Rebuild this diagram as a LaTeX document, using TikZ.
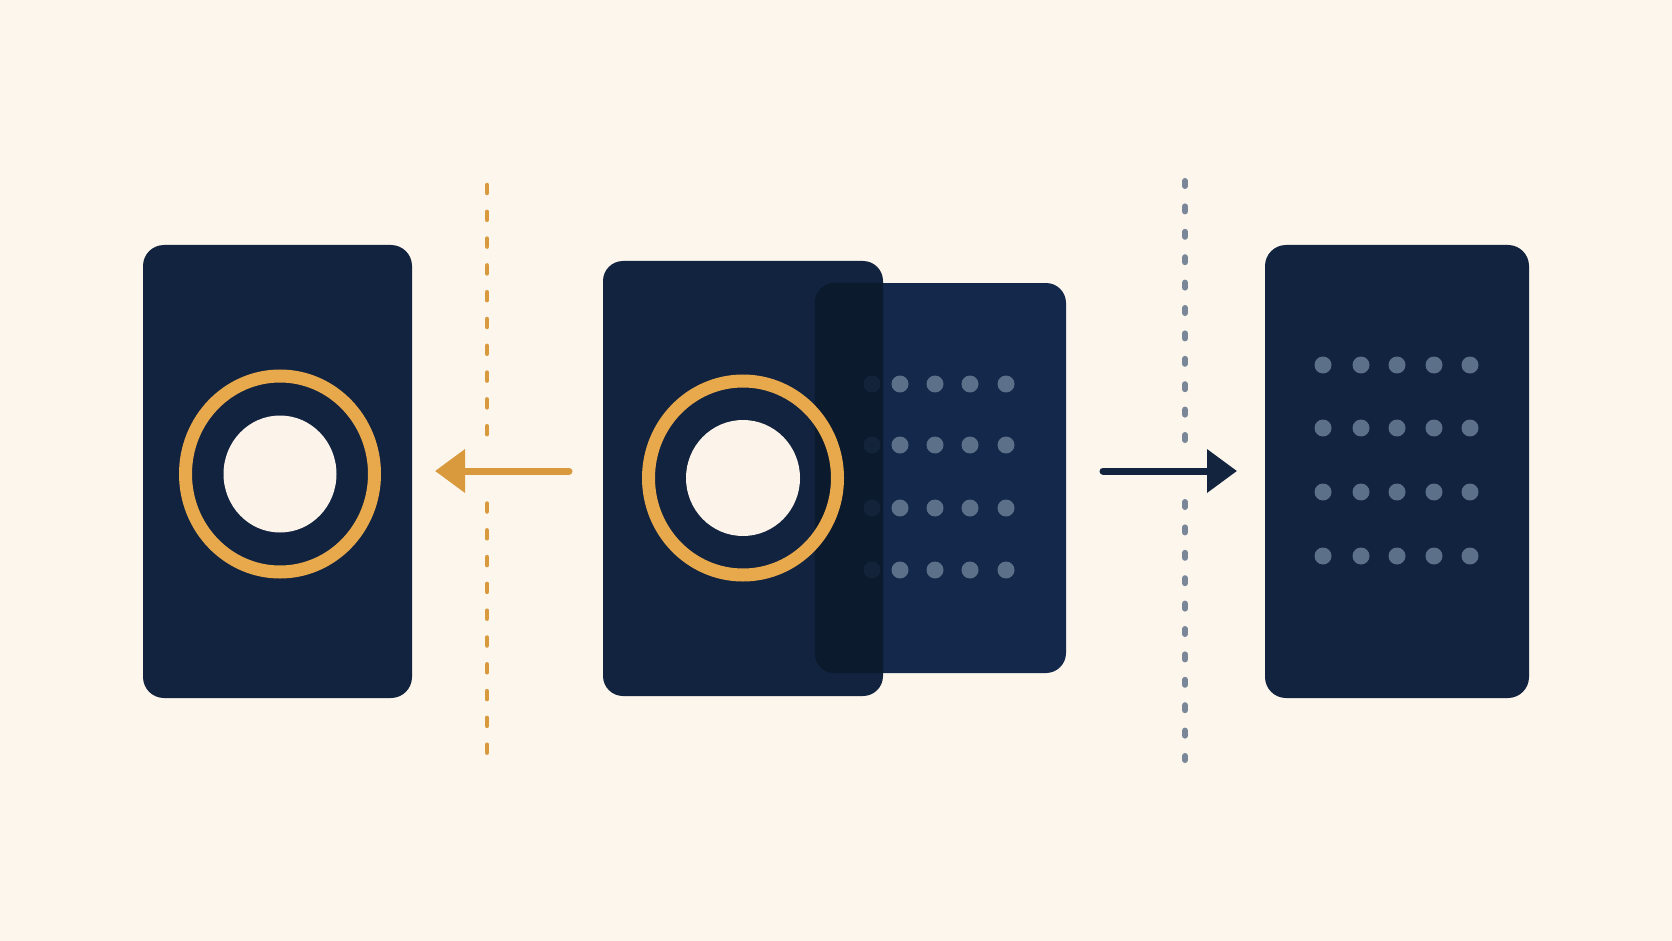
\documentclass[tikz,border=0pt]{standalone}
\usetikzlibrary{arrows.meta}
\definecolor{bgcream}{HTML}{FCF6EC}
\definecolor{navy}{HTML}{11233F}
\definecolor{navyb}{HTML}{13284A}
\definecolor{navyover}{HTML}{0B1A2C}
\definecolor{ringor}{HTML}{E8A84C}
\definecolor{arrowor}{HTML}{D99A3E}
\definecolor{dashgray}{HTML}{7A8799}
\definecolor{dotgray}{HTML}{5D7089}
\definecolor{dotdim}{HTML}{13243A}
\definecolor{creamdot}{HTML}{FCF3EA}
\definecolor{navyarrow}{HTML}{13243F}
\tikzset{
  cardbox/.style={rectangle, rounded corners=21pt, inner sep=0pt, draw=none},
  ringline/.style={draw=ringor, line width=13pt},
  innerdisc/.style={fill=creamdot},
  gdot/.style={fill=dotgray},
  ddot/.style={fill=dotdim},
  ordash/.style={draw=arrowor, line width=4.5pt, line cap=round, dash pattern=on 8pt off 18.8pt},
  grdash/.style={draw=dashgray, line width=6pt, line cap=round, dash pattern=on 5pt off 20.4pt},
  orarrow/.style={draw=arrowor, line width=7pt, line cap=round, -{Triangle[length=30pt, width=42pt]}},
  nvarrow/.style={draw=navyarrow, line width=7pt, line cap=round, -{Triangle[length=30pt, width=42pt]}}
}
\begin{document}
\begin{tikzpicture}[x=1pt,y=-1pt]
\useasboundingbox (0,0) rectangle (1672,941);
\fill[bgcream] (0,0) rectangle (1672,941);

% far left card
\node[cardbox, fill=navy, minimum width=269pt, minimum height=453pt] (cardA) at (277.5,471.5) {};
% middle right card (behind)
\node[cardbox, fill=navyb, rounded corners=20pt, minimum width=251pt, minimum height=390pt] (cardC) at (940.5,478) {};
% dots on middle right card
\foreach \y in {384,445,508,570}{
  \foreach \x in {900,935,970,1006}{
    \fill[gdot] (\x,\y) circle (8.5pt);
  }
}
% middle left card (front)
\node[cardbox, fill=navy, rounded corners=20pt, minimum width=280pt, minimum height=435pt] (cardB) at (743,478.5) {};
% overlap region
\begin{scope}
  \clip[rounded corners=20pt] (cardC.north west) rectangle (cardC.south east);
  \fill[navyover, rounded corners=20pt] (cardB.north west) rectangle (cardB.south east);
  \foreach \y in {384,445,508,570}{
    \fill[ddot] (872,\y) circle (8.5pt);
  }
\end{scope}
% far right card
\node[cardbox, fill=navy, minimum width=264pt, minimum height=453pt] (cardD) at (1397,471.5) {};
\foreach \y in {365,428,492,556}{
  \foreach \x in {1323,1361,1397,1434,1470}{
    \fill[gdot] (\x,\y) circle (8.5pt);
  }
}

% rings and discs
\draw[ringline] (280,474) ellipse [x radius=94.5pt, y radius=98pt];
\fill[innerdisc] (280,474) ellipse [x radius=56.5pt, y radius=58.5pt];
\draw[ringline] (743,478) ellipse [x radius=94.5pt, y radius=97pt];
\fill[innerdisc] (743,478) ellipse [x radius=57pt, y radius=58pt];

% dashed separators
\coordinate (oTop) at (487,185);
\coordinate (oMidA) at (487,435);
\coordinate (oMidB) at (487,503.5);
\coordinate (oBot) at (487,754);
\draw[ordash] (oTop) -- (oMidA);
\draw[ordash] (oMidB) -- (oBot);
\coordinate (gTop) at (1185,181);
\coordinate (gMidA) at (1185,440);
\coordinate (gMidB) at (1185,502);
\coordinate (gBot) at (1185,760);
\draw[grdash] (gTop) -- (gMidA);
\draw[grdash] (gMidB) -- (gBot);

% arrows
\coordinate (oaS) at (569,471);
\coordinate (oaE) at (435,471);
\draw[orarrow] (oaS) -- (oaE);
\coordinate (naS) at (1103,471);
\coordinate (naE) at (1237,471);
\draw[nvarrow] (naS) -- (naE);
\end{tikzpicture}
\end{document}
